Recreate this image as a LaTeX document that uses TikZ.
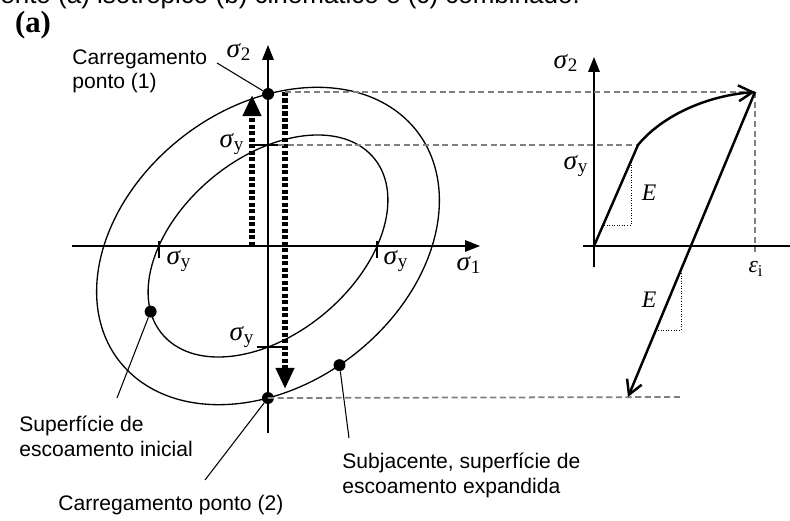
\documentclass[tikz,border=0pt]{standalone}
\usepackage[no-math]{fontspec}
\setmainfont{Liberation Sans}
\newfontfamily\figfont{Liberation Serif}
\usetikzlibrary{arrows.meta}

\newcommand{\sgm}[1]{\textit{σ}\textsubscript{#1}}

\begin{document}
\begin{tikzpicture}[x=0.02cm, y=0.02cm,
  txt/.style={font=\fontsize{12}{13.7}\selectfont, align=left, inner sep=0pt},
  sym/.style={font=\figfont\fontsize{15.5}{16}\selectfont, inner sep=0pt},
  symsm/.style={font=\figfont\fontsize{13.5}{14}\selectfont, inner sep=0pt},
  axis/.style={line width=1pt, -{Triangle[length=8.5pt, width=6.5pt]}},
  curve/.style={line width=0.75pt},
  path2/.style={line width=1.4pt, -{Straight Barb[length=8pt, width=9pt]}},
  guide/.style={black!50, line width=1pt, dash pattern=on 3.5pt off 2pt},
  load/.style={line width=3pt, dash pattern=on 2.4pt off 1.3pt,
               -{Triangle[length=12pt, width=10pt]}},
  leader/.style={line width=0.6pt},
  dot/.style={circle, fill, inner sep=0pt, minimum size=6.8pt},
  slope/.style={densely dotted, line width=0.45pt}
]

\useasboundingbox (-268,-274) rectangle (522,246);
\clip (-268,-274) rectangle (522,246);

% ── Legenda cortada e rótulo ──────────────────────────────────
\node[anchor=base west, inner sep=0pt, font=\fontsize{14.8}{16}\selectfont]
  (cap) at (-268,242.5) {ento (a) isotrópico (b) cinemático e (c) combinado.};
\node[inner sep=0pt, font=\figfont\bfseries\fontsize{17.5}{18}\selectfont]
  (fig) at (-235,221) {(a)};

% ── Espaço das tensões (σ1, σ2) ───────────────────────────────
\draw[axis] (-196,0) -- (212,0);
\draw[axis] (0,-187) -- (0,201);
\node[sym] (s1) at (201,-19) {\sgm{1}};
\node[sym] (s2) at (-29,194) {\sgm{2}};

% superfícies inicial e expandida (concêntricas)
\begin{scope}[xscale=1.08, rotate=45]
  \draw[curve] (0,0) ellipse (132 and 85);
  \draw[curve] (0,0) ellipse (180 and 134);
  \coordinate (p1) at (53.3:180 and 134);
  \coordinate (p2) at (233.3:180 and 134);
  \coordinate (p3) at (159:132 and 85);
  \coordinate (p4) at (258:180 and 134);
\end{scope}

\node[dot] (d1) at (p1) {};
\node[dot] (d2) at (p2) {};
\node[dot] (d3) at (p3) {};
\node[dot] (d4) at (p4) {};

% marcas de σy
\draw[curve] (-109,5) -- (-109,-12);
\draw[curve] (109,5) -- (109,-12);
\draw[curve] (-13,101) -- (10,101);
\draw[curve] (-11,-101) -- (14,-101);
\node[sym] (syl) at (-89,-15) {\sgm{y}};
\node[sym] (syr) at (128,-15) {\sgm{y}};
\node[sym] (syu) at (-36,102) {\sgm{y}};
\node[sym] (syd) at (-26,-91) {\sgm{y}};

% carregamento e descarregamento
\draw[load] (-16,0) -- (-16,151);
\draw[load] (17,154) -- (17,-143);

% ── Curva tensão-deformação ───────────────────────────────────
\coordinate (o2) at (326,0);
\coordinate (knee) at (370,101);
\coordinate (peak) at (487,154);
\coordinate (low) at (360,-151);

\draw[axis] (326,-21) -- (326,189);
\draw[line width=1pt] (315,0) -- (522,0);
\node[sym] (s2r) at (298,183) {\sgm{2}};
\node[sym] (syk) at (308,80) {\sgm{y}};

% linhas de chamada (tracejadas)
\draw[guide] (17,154) -- (peak);
\draw[guide] (10,101) -- (knee);
\draw[guide] (d2.center) -- (414,-151);
\draw[guide] (peak) -- (487,-6);
\node[symsm] (eps) at (488,-23) {\textit{ε}\textsubscript{i}};

\draw[path2] (o2) -- (knee) .. controls (392,128) and (435,150) .. (peak);
\draw[path2] (peak) -- (low);

% triângulos de inclinação E
\draw[slope] (363,84) -- (363,21) -- (336,21);
\node[symsm] (e1) at (381,53) {\textit{E}};
\draw[slope] (413,-27) -- (413,-84) -- (387,-84);
\node[symsm] (e2) at (381,-54) {\textit{E}};

% ── Textos e linhas de indicação ──────────────────────────────
\node[txt, anchor=base west] (n1) at (-196,157) {Carregamento\\ponto (1)};
\node[txt, anchor=base west] (n3) at (-249,-210) {Superfície de\\escoamento inicial};
\node[txt, anchor=base west] (n2) at (-210,-264) {Carregamento ponto (2)};
\node[txt, anchor=base west] (n4) at (74,-247) {Subjacente, superfície de\\escoamento expandida};

\coordinate (l1) at (-51,183);
\coordinate (l3) at (-151,-152);
\coordinate (l2) at (-63,-234);
\coordinate (l4) at (81,-192);
\draw[leader] (l1) -- (d1);
\draw[leader] (l3) -- (d3);
\draw[leader] (l2) -- (d2);
\draw[leader] (l4) -- (d4);

\end{tikzpicture}
\end{document}
